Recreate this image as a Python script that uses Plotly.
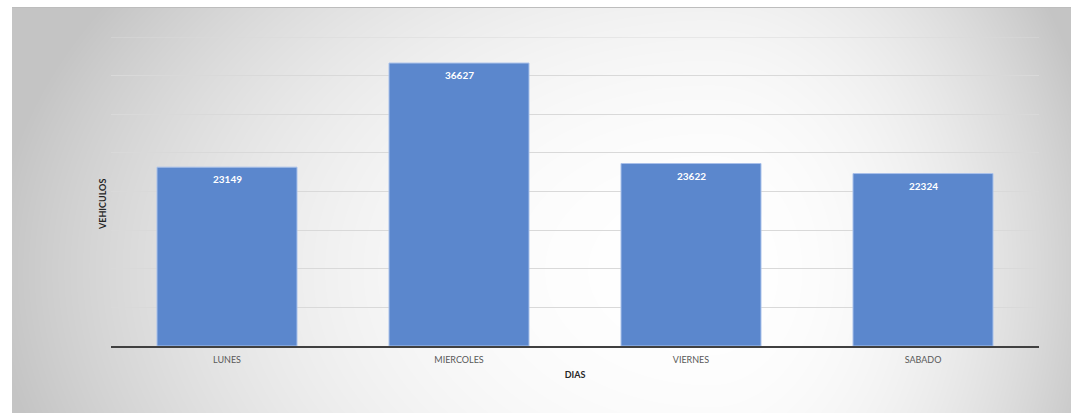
import base64
import struct
import zlib

import numpy as np
import plotly.graph_objects as go

# ---- data ----
dias = ["LUNES", "MIERCOLES", "VIERNES", "SABADO"]
vehiculos = [23149, 36627, 23622, 22324]
y_max = 40000
y_step = 5000

# ---- layout geometry (px) ----
W_PX, H_PX = 1071, 413
M_L, M_R, M_T, M_B = 111, 32, 37, 67
FRAME_X0, FRAME_Y0 = 12, 7
plot_w = W_PX - M_L - M_R
plot_h = H_PX - M_T - M_B

# ---- radial-ish background gradient as a PNG ----
bw, bh = W_PX - FRAME_X0, H_PX - FRAME_Y0
yy, xx = np.mgrid[0:bh, 0:bw]
px = xx + FRAME_X0
py = yy + FRAME_Y0
cx, cy = 710, 270
dx = px - cx
sx = np.where(dx < 0, 720.0, 400.0)
d = np.sqrt((dx / sx) ** 2 + ((py - cy) / 500.0) ** 2)
g = np.clip(d, 0, 1) ** 2.3
val = (255 - 59 * g).astype(np.uint8)


def _chunk(tag, data):
    return (struct.pack(">I", len(data)) + tag + data
            + struct.pack(">I", zlib.crc32(tag + data) & 0xFFFFFFFF))


raw = b"".join(b"\x00" + row.tobytes() for row in val)
png = (b"\x89PNG\r\n\x1a\n"
       + _chunk(b"IHDR", struct.pack(">IIBBBBB", bw, bh, 8, 0, 0, 0, 0))
       + _chunk(b"IDAT", zlib.compress(raw, 9))
       + _chunk(b"IEND", b""))
bg_uri = "data:image/png;base64," + base64.b64encode(png).decode()

FONT = "Lato"

fig = go.Figure()
fig.add_trace(go.Bar(
    x=dias, y=vehiculos,
    marker=dict(color="#5B87CD", line=dict(color="#A9C1EA", width=1)),
    hoverinfo="x+y",
))

annotations = []
for d_, v in zip(dias, vehiculos):
    annotations.append(dict(
        x=d_, y=v, xref="x", yref="y", text=str(v), showarrow=False,
        yanchor="top", yshift=-4,
        font=dict(family=FONT, size=10, color="white", weight="bold"),
    ))
annotations.append(dict(
    x=(102 - M_L) / plot_w, y=(H_PX - M_B - 205) / plot_h,
    xref="paper", yref="paper", text="<b>VEHICULOS</b>", showarrow=False,
    textangle=-90, xanchor="center", yanchor="middle",
    font=dict(family=FONT, size=9, color="#262626"),
))

fig.update_layout(
    width=W_PX, height=H_PX,
    margin=dict(l=M_L, r=M_R, t=M_T, b=M_B, pad=0),
    paper_bgcolor="white",
    plot_bgcolor="rgba(0,0,0,0)",
    bargap=1 - 140 / 232,
    showlegend=False,
    font=dict(family=FONT, size=9, color="#595959"),
    annotations=annotations,
    images=[dict(
        source=bg_uri, xref="paper", yref="paper",
        x=(FRAME_X0 - M_L) / plot_w, y=(H_PX - M_B - FRAME_Y0) / plot_h,
        sizex=bw / plot_w, sizey=bh / plot_h,
        xanchor="left", yanchor="top", sizing="stretch", layer="below",
    )],
    shapes=[
        dict(
            type="line", xref="paper", yref="paper",
            x0=(FRAME_X0 - M_L) / plot_w, x1=(W_PX - M_L) / plot_w,
            y0=(H_PX - M_B - FRAME_Y0 - 0.5) / plot_h,
            y1=(H_PX - M_B - FRAME_Y0 - 0.5) / plot_h,
            line=dict(color="#BDBDBD", width=1), layer="above",
        ),
        dict(
            type="line", xref="paper", yref="y",
            x0=0, x1=1, y0=y_max, y1=y_max,
            line=dict(color="#D9D9D9", width=1), layer="below",
        ),
    ],
    xaxis=dict(
        showgrid=False, showline=True, linecolor="#404040", linewidth=1.5,
        ticks="", ticklabelstandoff=4,
        tickfont=dict(family=FONT, size=9, color="#595959"),
        title=dict(text="<b>DIAS</b>", standoff=8,
                   font=dict(family=FONT, size=9, color="#262626")),
    ),
    yaxis=dict(
        range=[0, y_max], dtick=y_step, showticklabels=False,
        showgrid=True, gridcolor="#D9D9D9", gridwidth=1,
        zeroline=False, showline=False, ticks="",
    ),
)

fig.write_html("out.html")
